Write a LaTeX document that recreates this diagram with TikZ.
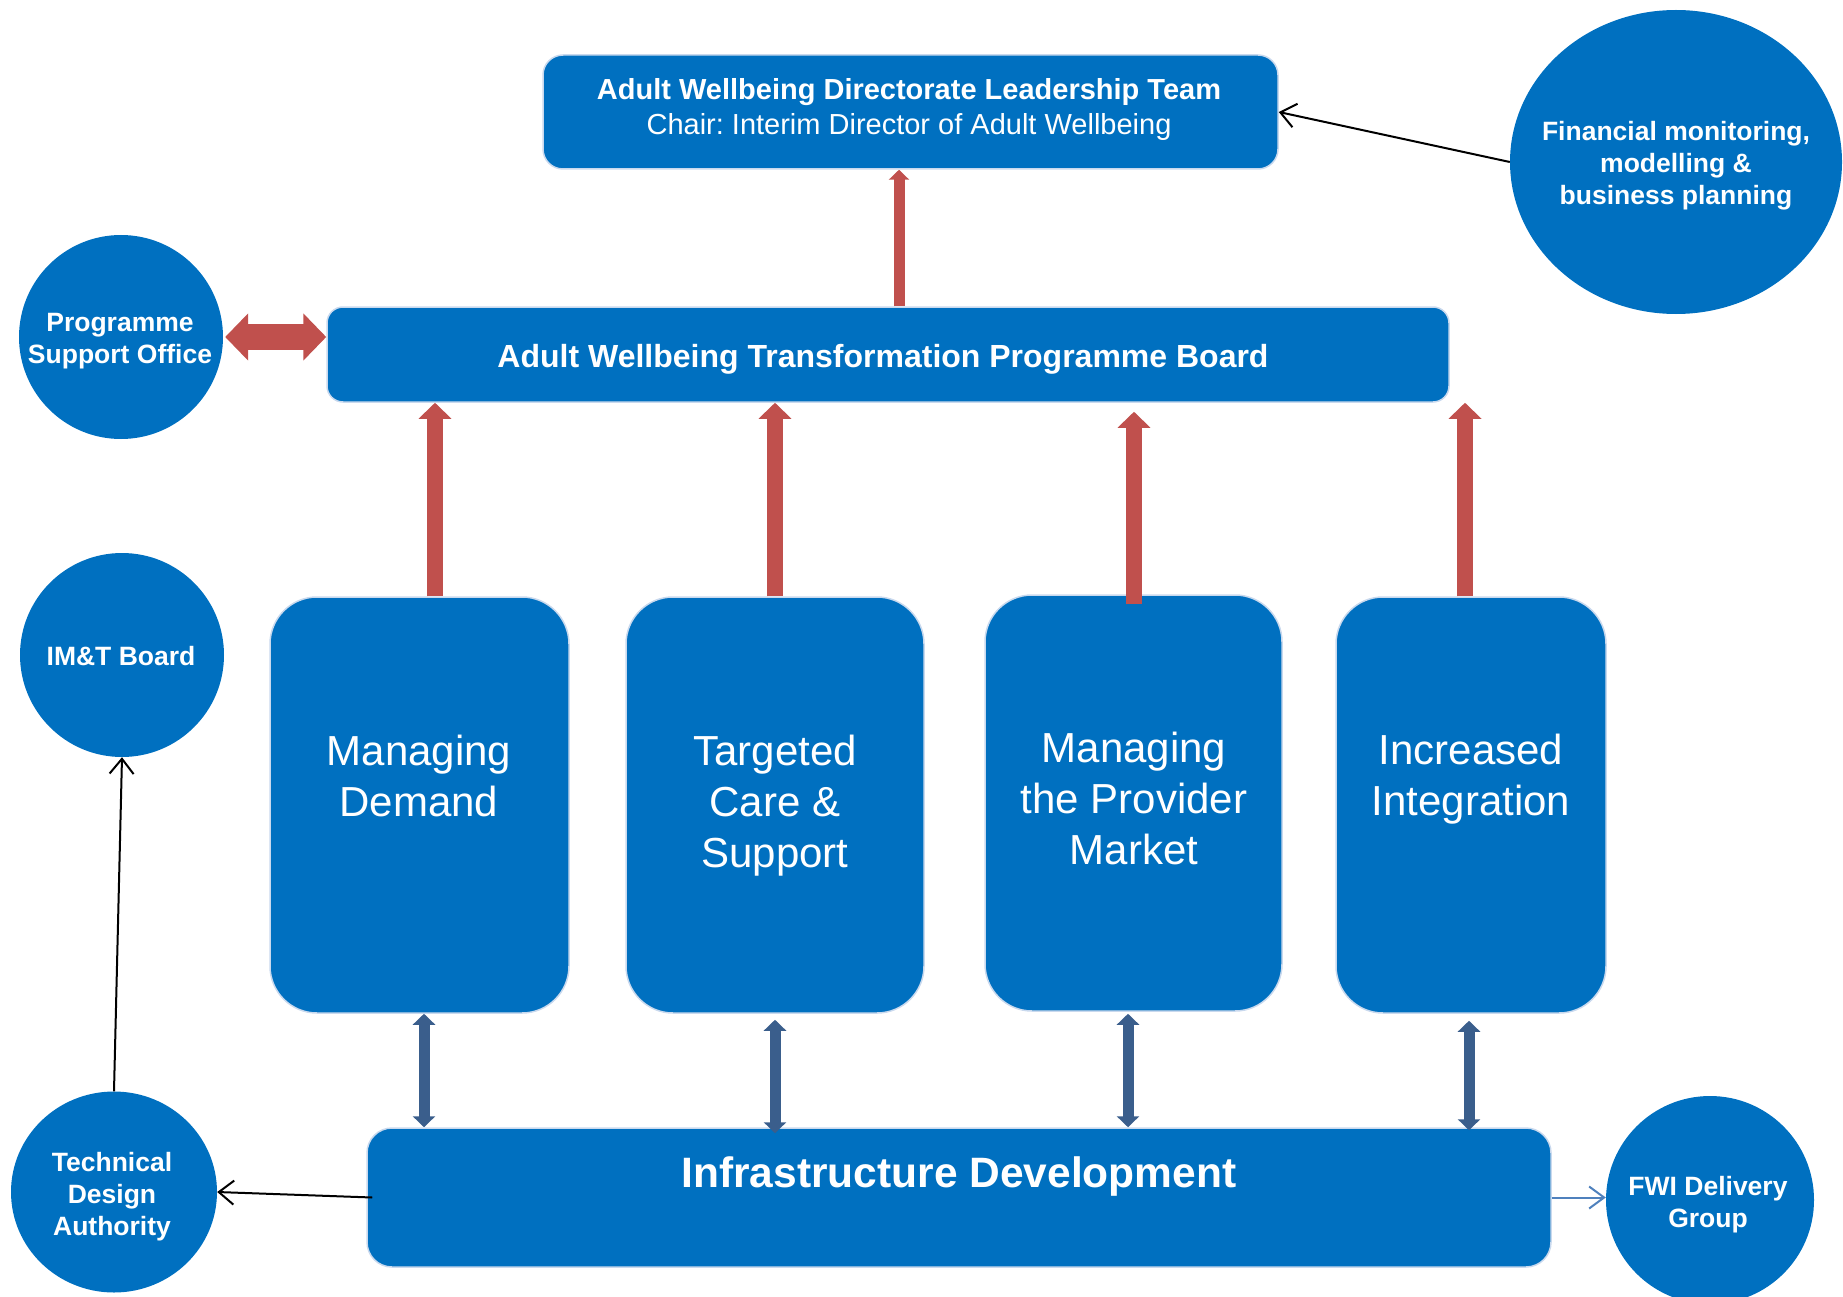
\documentclass[tikz,border=0pt]{standalone}
\usepackage{fontspec}
\setmainfont{Liberation Sans}
\frenchspacing
\usetikzlibrary{arrows.meta,shapes.geometric,calc}
\definecolor{boxblue}{HTML}{0070C0}
\definecolor{edgeblue}{HTML}{C9D9EE}
\definecolor{arrred}{HTML}{C0504D}
\definecolor{arrblue}{HTML}{3A5E8C}
\definecolor{linkblue}{HTML}{4F81BD}
\begin{document}
\begin{tikzpicture}[x=1pt,y=-1pt,
  box/.style={draw=edgeblue, line width=1.5pt, fill=boxblue, inner sep=0pt},
  tallbox/.style={box, rounded corners=47pt, minimum height=416pt},
  circ/.style={circle, fill=boxblue, inner sep=0pt, text=white, align=center,
    font=\fontsize{26.5}{32}\selectfont\bfseries},
  circtext/.style={text=white, align=center, inner sep=0pt,
    font=\fontsize{26.5}{32}\selectfont\bfseries},
  lbl/.style={text=white, align=center, inner sep=0pt},
  talltext/.style={lbl, font=\fontsize{42}{51}\selectfont},
  redarrow/.style={draw=arrred, line width=16pt, -{Triangle[width=32pt,length=16pt]}},
  redtop/.style={draw=arrred, line width=11pt, -{Triangle[width=20pt,length=10pt]}},
  reddouble/.style={draw=arrred, line width=26pt, {Triangle[width=46pt,length=23pt]}-{Triangle[width=46pt,length=23pt]}},
  bluedouble/.style={draw=arrblue, line width=11pt, {Triangle[width=22pt,length=11pt]}-{Triangle[width=22pt,length=11pt]}},
  thinarrow/.style={draw=black, line width=2pt, -{Straight Barb[length=15pt,width=24pt]}},
  linkarrow/.style={draw=linkblue, line width=2pt, -{Straight Barb[length=15pt,width=22pt]}}
]
\useasboundingbox (0,0) rectangle (1843,1297);

% main boxes
\node[box, rounded corners=20pt, minimum width=735pt, minimum height=114pt] (top) at (910.5,112) {};
\node[lbl, font=\fontsize{29}{35}\selectfont] (toptext) at (909,109.5) {{\bfseries Adult Wellbeing Directorate Leadership Team}\\
  Chair: Interim Director of Adult Wellbeing};

\node[box, rounded corners=16pt, minimum width=1122pt, minimum height=95pt] (board) at (888,354.5) {};
\node[lbl, font=\fontsize{32}{38}\selectfont\bfseries] (boardtext) at (883,359.5) {Adult Wellbeing Transformation Programme Board};

\node[tallbox, minimum width=299pt] (md) at (419.5,805) {};
\node[tallbox, minimum width=298pt] (tc) at (775,805) {};
\node[tallbox, minimum width=297pt] (mp) at (1133.5,803) {};
\node[tallbox, minimum width=270pt] (ii) at (1471,805) {};
\node[talltext] (mdtext) at (419,776) {Managing\\Demand};
\node[talltext] (tctext) at (775,806) {Targeted\\Care \&\\Support};
\node[talltext] (mptext) at (1134,798.5) {Managing\\the Provider\\Market};
\node[talltext] (iitext) at (1471,779.5) {Increased\\Integration};

\node[box, rounded corners=25pt, minimum width=1184pt, minimum height=139pt] (infra) at (959,1197.5) {};
\node[lbl, font=\fontsize{42.5}{50}\selectfont\bfseries] (infratext) at (959,1176) {Infrastructure Development};

% circles
\node[circ, minimum size=204pt] (pso) at (121,337) {};
\node[circtext] (psotext) at (120,341.5) {Programme\\Support Office};
\node[circ, ellipse, minimum width=332pt, minimum height=304pt] (fin) at (1676,162) {};
\node[circtext] (fintext) at (1676,166) {Financial monitoring,\\modelling \&\\business planning};
\node[circ, minimum size=204pt] (imt) at (122,655) {};
\node[circtext] (imttext) at (121,656) {IM\&T Board};
\node[circ, ellipse, minimum width=206pt, minimum height=201pt] (tda) at (114,1192) {};
\node[circtext] (tdatext) at (112,1197) {Technical\\Design\\Authority};
\node[circ, minimum size=208pt] (fwi) at (1710,1200) {};
\node[circtext] (fwitext) at (1708,1205) {FWI Delivery\\Group};

% connectors
\draw[thinarrow] (fin.west) -- (top.east);
\draw[redtop] ($(board.north)+(11,0)$) -- ($(top.south)+(-11.5,0)$);
\draw[reddouble] ($(pso.east)+(2,0)$) -- (pso.east -| board.west);

\draw[redarrow] ($(md.north)+(15.5,0)$) -- ($(md.north |- board.south)+(15.5,0)$);
\draw[redarrow] (tc.north) -- (tc.north |- board.south);
\draw[redarrow] ($(mp.north)+(0.5,10)$) -- ($(mp.north |- board.south)+(0.5,9)$);
\draw[redarrow] ($(ii.north)+(-6,0)$) -- ($(ii.north |- board.south)+(-6,0)$);

\draw[bluedouble] ($(md.south)+(4.5,0)$) -- ($(md.south |- infra.north)+(4.5,0)$);
\draw[bluedouble] ($(tc.south)+(0,6)$) -- ($(tc.south |- infra.north)+(0,6)$);
\draw[bluedouble] ($(mp.south)+(-5.5,2)$) -- ($(mp.south |- infra.north)+(-5.5,0)$);
\draw[bluedouble] ($(ii.south)+(-2,7)$) -- ($(ii.south |- infra.north)+(-2,3)$);

\draw[thinarrow] ($(infra.west)+(6,0)$) -- (tda.east);
\draw[thinarrow] (tda.north) -- (imt.south);
\draw[linkarrow] (infra.east) -- (infra.east -| fwi.west);
\end{tikzpicture}
\end{document}
